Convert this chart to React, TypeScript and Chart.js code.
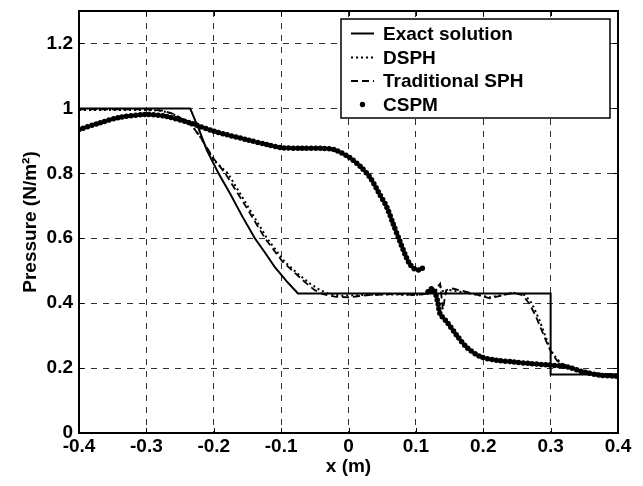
import React, { useEffect, useRef } from "react";
import { Chart, registerables } from "chart.js";

Chart.register(...registerables);

// ---- axis ticks ----
const xTickValues = [-0.4, -0.3, -0.2, -0.1, 0, 0.1, 0.2, 0.3, 0.4];
const xTickLabels = ["-0.4", "-0.3", "-0.2", "-0.1", "0", "0.1", "0.2", "0.3", "0.4"];
const yTickValues = [0, 0.2, 0.4, 0.6, 0.8, 1, 1.2];
const yTickLabels = ["0", "0.2", "0.4", "0.6", "0.8", "1", "1.2"];

// ---- Exact solution ----
const exactX = [-0.4, -0.235, -0.222, -0.21, -0.193, -0.175, -0.157, -0.139, -0.122, -0.109, -0.092, -0.075, 0.3, 0.3, 0.4];
const exactY = [1, 1, 0.935, 0.87, 0.8, 0.735, 0.665, 0.6, 0.55, 0.51, 0.468, 0.43, 0.43, 0.18, 0.18];

// ---- DSPH (dotted) ----
const dsphX = [-0.4, -0.3, -0.28, -0.265, -0.25, -0.235, -0.22, -0.2, -0.179, -0.15, -0.121, -0.095, -0.075, -0.057, -0.042, -0.028, -0.01, 0.02, 0.06, 0.1, 0.12, 0.13, 0.137, 0.142, 0.15, 0.18, 0.21, 0.245, 0.262, 0.272, 0.283, 0.292, 0.3, 0.307, 0.315, 0.33, 0.35, 0.37, 0.4];
const dsphY = [0.995, 0.995, 0.993, 0.986, 0.972, 0.955, 0.912, 0.84, 0.8, 0.7, 0.6, 0.528, 0.49, 0.46, 0.44, 0.428, 0.423, 0.425, 0.427, 0.425, 0.43, 0.44, 0.45, 0.43, 0.44, 0.43, 0.418, 0.432, 0.425, 0.4, 0.35, 0.3, 0.255, 0.235, 0.215, 0.2, 0.19, 0.182, 0.18];

// ---- Traditional SPH (dashed) ----
const sphX = [-0.4, -0.3, -0.275, -0.26, -0.245, -0.232, -0.22, -0.2, -0.183, -0.153, -0.124, -0.098, -0.078, -0.062, -0.05, -0.038, -0.02, 0.0, 0.03, 0.07, 0.1, 0.12, 0.13, 0.136, 0.14, 0.145, 0.155, 0.18, 0.21, 0.245, 0.258, 0.268, 0.278, 0.288, 0.296, 0.302, 0.31, 0.325, 0.345, 0.37, 0.4];
const sphY = [0.997, 0.997, 0.993, 0.983, 0.965, 0.945, 0.912, 0.845, 0.8, 0.7, 0.6, 0.528, 0.49, 0.46, 0.44, 0.428, 0.42, 0.418, 0.425, 0.428, 0.425, 0.43, 0.445, 0.46, 0.38, 0.44, 0.445, 0.432, 0.415, 0.432, 0.425, 0.4, 0.36, 0.31, 0.27, 0.245, 0.222, 0.205, 0.193, 0.183, 0.18];

// ---- CSPM (dots), two branches ----
const cspmX1 = [-0.4, -0.37, -0.34, -0.3, -0.27, -0.235, -0.2, -0.15, -0.12, -0.1, -0.07, -0.04, -0.02, 0.002, 0.018, 0.032, 0.045, 0.057, 0.067, 0.076, 0.084, 0.091, 0.097, 0.101, 0.106, 0.111];
const cspmY1 = [0.935, 0.955, 0.972, 0.981, 0.975, 0.955, 0.93, 0.903, 0.888, 0.879, 0.877, 0.877, 0.872, 0.848, 0.82, 0.787, 0.74, 0.695, 0.64, 0.592, 0.55, 0.52, 0.507, 0.503, 0.502, 0.51];
const cspmX2 = [0.118, 0.124, 0.129, 0.133, 0.136, 0.146, 0.161, 0.175, 0.195, 0.22, 0.245, 0.269, 0.294, 0.324, 0.349, 0.373, 0.398];
const cspmY2 = [0.435, 0.445, 0.43, 0.398, 0.367, 0.342, 0.3, 0.265, 0.236, 0.224, 0.219, 0.214, 0.21, 0.204, 0.188, 0.178, 0.175];

const legendLabels = ["Exact solution", "DSPH", "Traditional SPH", "CSPM"];

const FONT = "'Liberation Sans', Arial, Helvetica, sans-serif";

const zip = (xs: number[], ys: number[]) => xs.map((x, i) => ({ x, y: ys[i] }));

const framePlugin = {
  id: "frameAndLegend",
  afterDraw(chart: any) {
    const { ctx, chartArea } = chart;
    const { left, right, top, bottom } = chartArea;
    const xs = chart.scales.x;
    const ys = chart.scales.y;
    ctx.save();
    // inward ticks
    ctx.strokeStyle = "#000";
    ctx.lineWidth = 1;
    ctx.setLineDash([]);
    ctx.beginPath();
    xTickValues.forEach((v) => {
      const px = Math.round(xs.getPixelForValue(v)) + 0.5;
      ctx.moveTo(px, top);
      ctx.lineTo(px, top + 5);
      ctx.moveTo(px, bottom);
      ctx.lineTo(px, bottom - 5);
    });
    yTickValues.forEach((v) => {
      const py = Math.round(ys.getPixelForValue(v)) + 0.5;
      ctx.moveTo(left, py);
      ctx.lineTo(left + 5, py);
      ctx.moveTo(right, py);
      ctx.lineTo(right - 5, py);
    });
    ctx.stroke();
    // frame
    ctx.lineWidth = 2;
    ctx.strokeRect(left, top, right - left, bottom - top);

    // legend box
    const bx = 341, by = 19, bw = 269, bh = 99;
    ctx.fillStyle = "#fff";
    ctx.fillRect(bx, by, bw, bh);
    ctx.lineWidth = 1.5;
    ctx.strokeStyle = "#000";
    ctx.strokeRect(bx, by, bw, bh);
    const rows = [33.5, 57.5, 81, 104.5];
    const sx0 = 351, sx1 = 374;
    ctx.font = `bold 19px ${FONT}`;
    ctx.textBaseline = "middle";
    ctx.fillStyle = "#000";
    rows.forEach((ry, i) => {
      ctx.beginPath();
      if (i === 0) {
        ctx.setLineDash([]);
        ctx.lineWidth = 2;
        ctx.moveTo(sx0, ry);
        ctx.lineTo(sx1, ry);
        ctx.stroke();
      } else if (i === 1) {
        ctx.setLineDash([2, 3]);
        ctx.lineWidth = 2;
        ctx.moveTo(sx0, ry);
        ctx.lineTo(sx1, ry);
        ctx.stroke();
      } else if (i === 2) {
        ctx.setLineDash([7, 4]);
        ctx.lineWidth = 1.8;
        ctx.moveTo(sx0, ry);
        ctx.lineTo(sx1, ry);
        ctx.stroke();
      } else {
        ctx.setLineDash([]);
        ctx.arc((sx0 + sx1) / 2, ry, 2.7, 0, Math.PI * 2);
        ctx.fill();
      }
      ctx.setLineDash([]);
      ctx.fillText(legendLabels[i], 383, ry + 1);
    });
    ctx.restore();
  },
};

export default function App() {
  const canvasRef = useRef<HTMLCanvasElement | null>(null);

  useEffect(() => {
    document.body.style.margin = "0";
    const canvas = canvasRef.current;
    if (!canvas) return;

    const cspmStyle = {
      borderColor: "#000",
      borderWidth: 5.5,
      borderDash: [0, 4.5],
      borderCapStyle: "round" as const,
      pointRadius: 0,
      tension: 0.3,
      fill: false,
    };

    const chart = new Chart(canvas, {
      type: "line",
      data: {
        datasets: [
          { label: "CSPM a", data: zip(cspmX1, cspmY1), ...cspmStyle },
          { label: "CSPM b", data: zip(cspmX2, cspmY2), ...cspmStyle },
          {
            label: "Traditional SPH",
            data: zip(sphX, sphY),
            borderColor: "#000",
            borderWidth: 1.8,
            borderDash: [7, 4],
            pointRadius: 0,
            tension: 0,
            fill: false,
          },
          {
            label: "DSPH",
            data: zip(dsphX, dsphY),
            borderColor: "#000",
            borderWidth: 2,
            borderDash: [2, 3],
            pointRadius: 0,
            tension: 0,
            fill: false,
          },
          {
            label: "Exact solution",
            data: zip(exactX, exactY),
            borderColor: "#000",
            borderWidth: 2,
            pointRadius: 0,
            tension: 0,
            fill: false,
          },
        ],
      },
      options: {
        responsive: false,
        animation: false,
        layout: { padding: { left: 0, top: 11, right: 25, bottom: 0 } },
        plugins: { legend: { display: false }, tooltip: { enabled: false } },
        scales: {
          x: {
            type: "linear",
            min: -0.4,
            max: 0.4,
            afterBuildTicks: (s: any) => {
              s.ticks = xTickValues.map((v) => ({ value: v }));
            },
            afterFit: (s: any) => {
              s.height = 53;
              s.paddingLeft = 0;
              s.paddingRight = 0;
            },
            ticks: {
              color: "#000",
              font: { family: FONT, size: 19, weight: "bold" },
              padding: 2,
              maxRotation: 0,
              autoSkip: false,
              callback: (_v: any, i: number) => xTickLabels[i],
            },
            grid: { color: "#333", lineWidth: 1, drawTicks: false },
            border: { display: false, dash: [6, 6] },
            title: {
              display: true,
              text: "x (m)",
              color: "#000",
              font: { family: FONT, size: 19, weight: "bold" },
              padding: { top: 0, bottom: 8 },
            },
          },
          y: {
            type: "linear",
            min: 0,
            max: 1.3,
            afterBuildTicks: (s: any) => {
              s.ticks = yTickValues.map((v) => ({ value: v }));
            },
            afterFit: (s: any) => {
              s.width = 79;
              s.paddingTop = 0;
              s.paddingBottom = 0;
            },
            ticks: {
              color: "#000",
              font: { family: FONT, size: 19, weight: "bold" },
              padding: 6,
              autoSkip: false,
              callback: (_v: any, i: number) => yTickLabels[i],
            },
            grid: { color: "#333", lineWidth: 1, drawTicks: false },
            border: { display: false, dash: [6, 6] },
            title: {
              display: true,
              text: "Pressure (N/m²)",
              color: "#000",
              font: { family: FONT, size: 19, weight: "bold" },
              padding: { top: 19, bottom: 0 },
            },
          },
        },
      },
      plugins: [framePlugin],
    });

    return () => chart.destroy();
  }, []);

  return (
    <div style={{ width: 643, height: 486, background: "#fff" }}>
      <canvas ref={canvasRef} width={643} height={486} style={{ display: "block" }} />
    </div>
  );
}
